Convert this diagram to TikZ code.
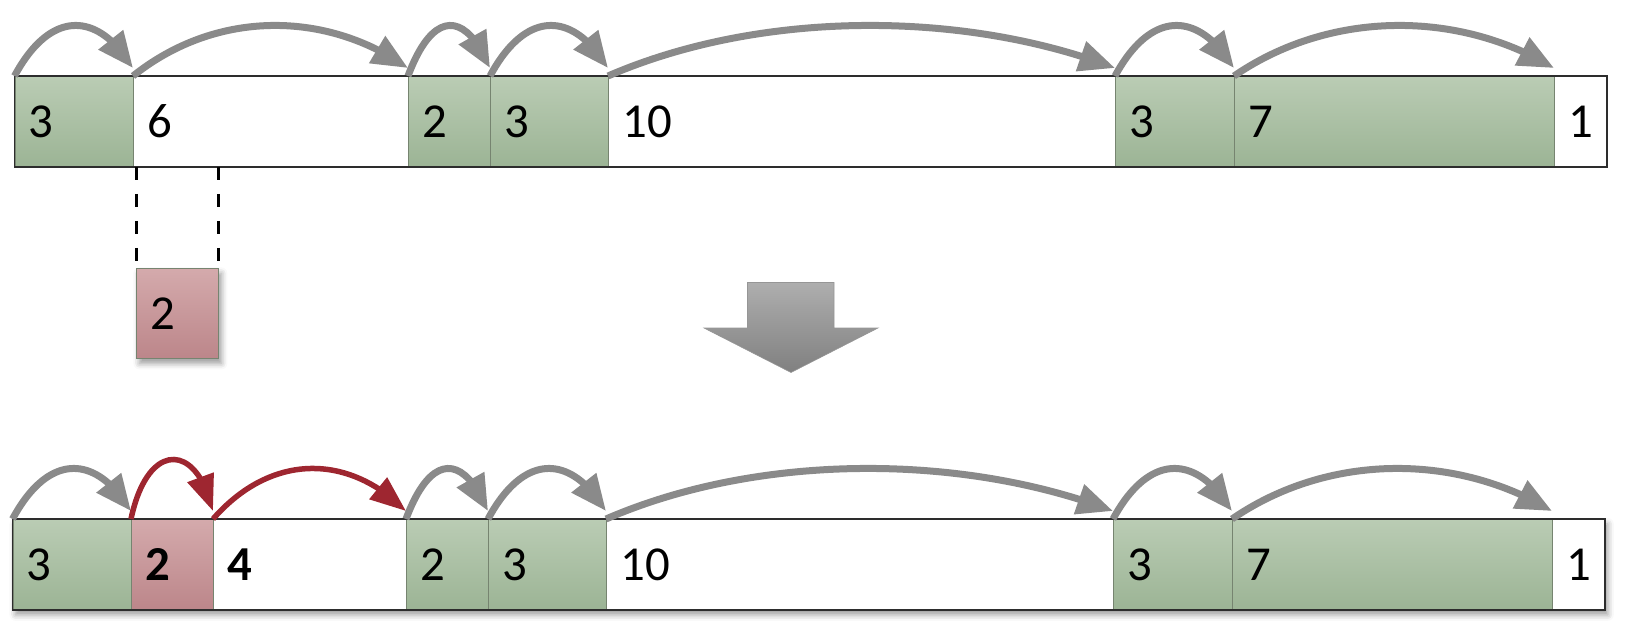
\documentclass[tikz,border=0pt]{standalone}
\usepackage{fontspec}
\setmainfont{Carlito}
\usetikzlibrary{arrows.meta,calc,fit,shadows.blur,backgrounds,bending}
\definecolor{gtop}{RGB}{186,204,180}
\definecolor{gbot}{RGB}{156,180,149}
\definecolor{rtop}{RGB}{212,170,172}
\definecolor{rbot}{RGB}{188,134,138}
\definecolor{rline}{RGB}{158,38,48}
\definecolor{garrow}{RGB}{138,138,138}
\definecolor{sepc}{RGB}{118,132,112}
\definecolor{barline}{RGB}{45,45,45}
\definecolor{atop}{RGB}{174,174,174}
\definecolor{abot}{RGB}{128,128,128}
\newcommand\linkarc[5][link]{%
  \draw[#1] (#2) .. controls ($(#2)!#4!(#3)+(0,-#5)$) and ($(#3)!#4!(#2)+(0,-#5)$) .. ($(#3)+(0,-8)$);}
\begin{document}
\begin{tikzpicture}[x=1bp,y=-1bp,
  cell/.style={draw=sepc, line width=0.8bp, minimum height=90bp, inner xsep=14bp, inner ysep=0pt,
    anchor=north west, align=left, font=\fontsize{49}{51}\selectfont},
  full/.style={cell, top color=gtop, bottom color=gbot},
  free/.style={cell, fill=white},
  newc/.style={cell, top color=rtop, bottom color=rbot},
  barbg/.style={inner sep=0pt, fill=white, blur shadow={shadow xshift=3bp, shadow yshift=-5bp, shadow blur radius=6bp}},
  barout/.style={inner sep=0pt, draw=barline, line width=1.6bp},
  link/.style={draw=garrow, line width=7bp, -{Triangle[length=36bp,width=30bp,flex]}},
  newlink/.style={draw=rline, line width=5.5bp, -{Triangle[length=36bp,width=27bp,flex]}},
  dashline/.style={draw=black, line width=3bp, dash pattern=on 13bp off 14bp},
]
\useasboundingbox (0,0) rectangle (1628,632);

% top bar
\node[full, text width=90.5bp] (a1) at (14.5,76) {3};
\node[free, text width=247bp]  (a2) at (133,76) {6};
\node[full, text width=54bp]   (a3) at (408,76) {2};
\node[full, text width=90bp]   (a4) at (490,76) {3};
\node[free, text width=479bp]  (a5) at (608,76) {10};
\node[full, text width=91bp]   (a6) at (1115,76) {3};
\node[full, text width=292bp]  (a7) at (1234,76) {7};
\node[free, text width=24bp]   (a8) at (1554,76) {1};
\begin{scope}[on background layer]
  \node[barbg, fit=(a1)(a8)] (bg1) {};
\end{scope}
\node[barout, fit=(a1)(a8)] (bar1) {};

% removed block
\node[newc, text width=54bp, blur shadow={shadow xshift=3bp, shadow yshift=-5bp, shadow blur radius=6bp}] (r) at (136,268) {2};
\draw[dashline] (r.north west |- a2.south) -- (r.north west);
\draw[dashline] (r.north east |- a2.south) -- (r.north east);

% big arrow
\shade[top color=atop, bottom color=abot, draw={rgb,255:red,150;green,150;blue,150}, line width=0.6bp]
  (747.5,282.5) -- (834,282.5) -- (834,328) -- (878,328) -- (791,372.5) -- (704,328) -- (747.5,328) -- cycle;

% bottom bar
\node[full, text width=90.5bp] (b1) at (12.5,519) {3};
\node[newc, text width=54bp]   (b2) at (131,519) {\bfseries 2};
\node[free, text width=165bp]  (b3) at (213,519) {\bfseries 4};
\node[full, text width=54bp]   (b4) at (406,519) {2};
\node[full, text width=90bp]   (b5) at (488,519) {3};
\node[free, text width=479bp]  (b6) at (606,519) {10};
\node[full, text width=91bp]   (b7) at (1113,519) {3};
\node[full, text width=292bp]  (b8) at (1232,519) {7};
\node[free, text width=24bp]   (b9) at (1552,519) {1};
\begin{scope}[on background layer]
  \node[barbg, fit=(b1)(b9)] (bg2) {};
\end{scope}
\node[barout, fit=(b1)(b9)] (bar2) {};

% links top
\linkarc{a1.north west}{a2.north west}{0.3}{66}
\linkarc{a2.north west}{a3.north west}{0.3}{66}
\linkarc{a3.north west}{a4.north west}{0.3}{66}
\linkarc{a4.north west}{a5.north west}{0.3}{66}
\linkarc{a5.north west}{a6.north west}{0.3}{66}
\linkarc{a6.north west}{a7.north west}{0.3}{66}
\linkarc{a7.north west}{a8.north west}{0.3}{66}

% links bottom
\linkarc{b1.north west}{b2.north west}{0.3}{66}
\linkarc[newlink]{b2.north west}{b3.north west}{0.2}{78}
\linkarc[newlink]{b3.north west}{b4.north west}{0.3}{66}
\linkarc{b4.north west}{b5.north west}{0.3}{66}
\linkarc{b5.north west}{b6.north west}{0.3}{66}
\linkarc{b6.north west}{b7.north west}{0.3}{66}
\linkarc{b7.north west}{b8.north west}{0.3}{66}
\linkarc{b8.north west}{b9.north west}{0.3}{66}
\end{tikzpicture}
\end{document}
